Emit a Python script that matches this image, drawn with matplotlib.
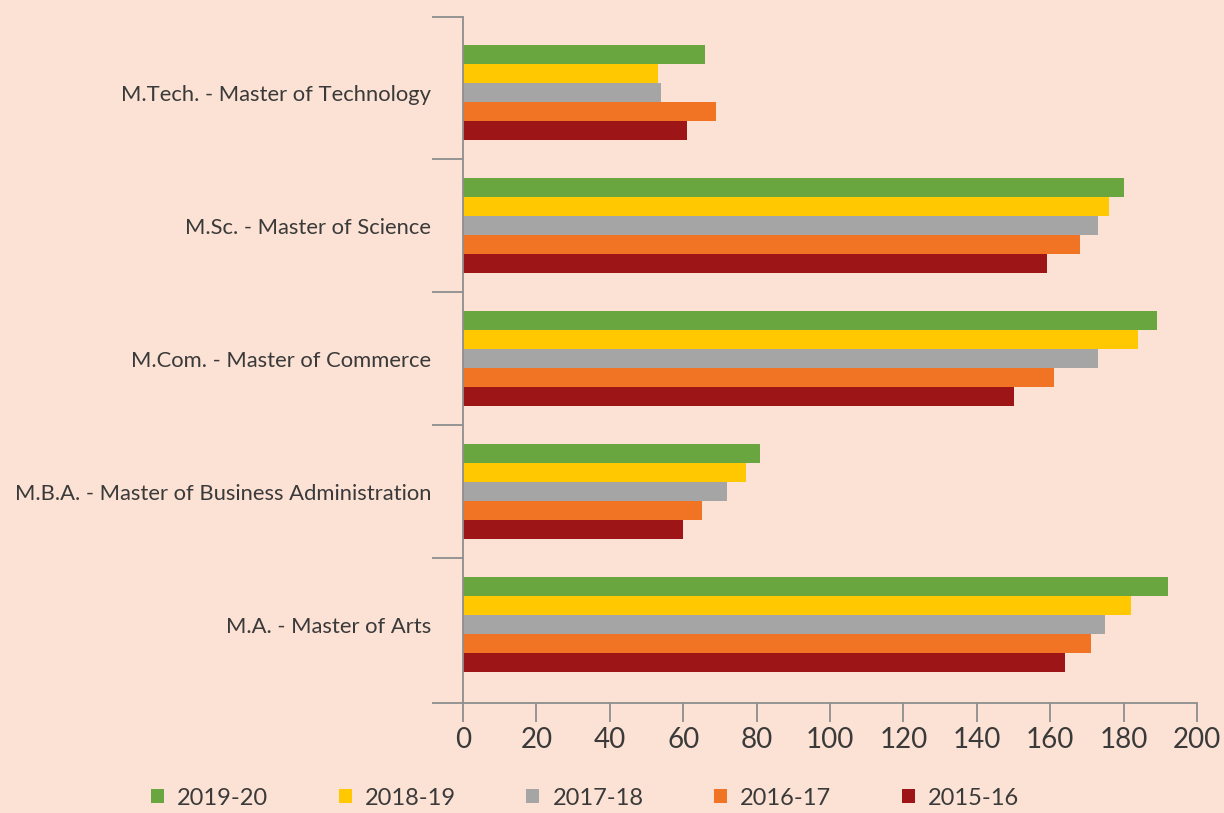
import matplotlib
matplotlib.use("Agg")
import matplotlib.pyplot as plt
from matplotlib.patches import Patch
import numpy as np

# Programmes (top to bottom) and enrolment by academic year
programmes = [
    "M.Tech. - Master of Technology",
    "M.Sc. - Master of Science",
    "M.Com. - Master of Commerce",
    "M.B.A. - Master of Business Administration",
    "M.A. - Master of Arts",
]
years = ["2019-20", "2018-19", "2017-18", "2016-17", "2015-16"]
values_2019_20 = [66, 180, 189, 81, 192]
values_2018_19 = [53, 176, 184, 77, 182]
values_2017_18 = [54, 173, 173, 72, 175]
values_2016_17 = [69, 168, 161, 65, 171]
values_2015_16 = [61, 159, 150, 60, 164]
series = [values_2019_20, values_2018_19, values_2017_18, values_2016_17, values_2015_16]
colors = ["#6AA640", "#FFC800", "#A5A5A5", "#F07424", "#9E1518"]
x_ticks = list(range(0, 201, 20))

bg = "#FCE2D4"
axis_col = "#8E8E8E"
text_col = "#3A3A3A"

plt.rcParams["font.family"] = ["Lato", "DejaVu Sans"]

W, H = 1224, 813
fig = plt.figure(figsize=(W / 100, H / 100), dpi=100, facecolor=bg)
ax = fig.add_axes([463 / W, 1 - 703 / H, (1197 - 463) / W, (703 - 17) / H])
ax.set_facecolor(bg)

n = len(programmes)
y = np.arange(n)
h = 0.143
for j, (vals, col) in enumerate(zip(series, colors)):
    ax.barh(y + (j - 2) * h, vals, height=h, color=col, label=years[j], zorder=2)

y_top, y_bottom = -0.57, n - 1 + 0.59
ax.set_xlim(0, 200)
ax.set_ylim(y_bottom, y_top)

# category boundaries carry the tick marks, centres carry the labels
ax.set_yticks([y_top] + [i + 0.5 for i in range(n - 1)] + [y_bottom])
ax.set_yticklabels([])
ax.set_yticks(y, minor=True)
ax.set_yticklabels(programmes, minor=True, fontsize=15.8, color=text_col)
ax.tick_params(axis="y", which="major", direction="out", length=22, width=1.3, color=axis_col)
ax.tick_params(axis="y", which="minor", length=0, pad=23)

ax.set_xticks(x_ticks)
ax.set_xticklabels([str(v) for v in x_ticks], fontsize=20, color=text_col)
ax.tick_params(axis="x", direction="out", length=14, width=1.3, color=axis_col, pad=3)

for s in ["top", "right"]:
    ax.spines[s].set_visible(False)
for s in ["left", "bottom"]:
    ax.spines[s].set_color(axis_col)
    ax.spines[s].set_linewidth(1.3)

handles = [Patch(facecolor=c, edgecolor="none") for c in colors]
fig.legend(handles, years, loc="center", bbox_to_anchor=(585 / W, 1 - 798 / H), ncol=5,
           frameon=False, fontsize=17, labelcolor=text_col, handlelength=0.55, handleheight=0.55,
           handletextpad=0.55, columnspacing=3.0, borderpad=0.1)

fig.savefig("out.png", dpi=100, facecolor=bg)
